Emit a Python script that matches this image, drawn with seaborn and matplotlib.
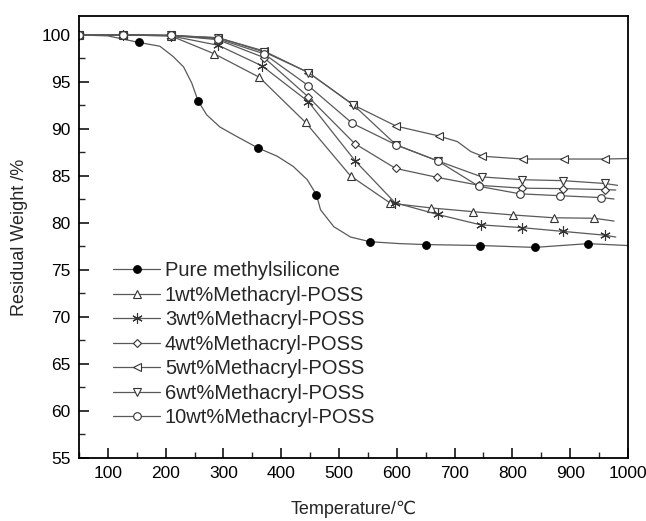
import matplotlib
matplotlib.use("Agg")
import matplotlib.pyplot as plt
import seaborn as sns

# --- data ---
pure_T = [50, 100, 154, 190, 213, 231, 245, 256, 271, 294, 323, 359, 393, 421,
          445, 461, 468, 491, 520, 554, 606, 650, 744, 839, 931, 999]
pure_W = [100, 99.9, 99.2, 98.8, 97.7, 96.6, 94.9, 93.0, 91.5, 90.2, 89.2, 88.0, 87.1, 86.0,
          84.6, 83.0, 81.4, 79.6, 78.5, 78.0, 77.8, 77.7, 77.6, 77.4, 77.8, 77.6]
pure_marks = [0, 2, 7, 11, 15, 19, 21, 22, 23, 24]

w1_T = [50, 126, 209, 284, 362, 442, 520, 589, 659, 732, 801, 872, 942, 976]
w1_W = [100, 100, 99.9, 98.0, 95.5, 90.7, 85.0, 82.1, 81.6, 81.2, 80.85, 80.55, 80.5, 80.2]

w3_T = [50, 126, 209, 291, 367, 447, 528, 597, 671, 745, 817, 888, 960, 979]
w3_W = [100, 100, 99.9, 98.9, 96.7, 92.9, 86.6, 82.15, 80.9, 79.8, 79.5, 79.1, 78.7, 78.5]

w4_T = [50, 126, 209, 290, 370, 447, 527, 598, 670, 743, 817, 888, 960, 979]
w4_W = [100, 100, 99.95, 99.5, 97.6, 93.4, 88.45, 85.8, 84.85, 84.0, 83.7, 83.65, 83.55, 83.5]

w5_T = [50, 126, 209, 291, 370, 447, 525, 599, 673, 705, 728, 748, 818, 889, 961, 999]
w5_W = [100, 100, 99.95, 99.7, 98.3, 96.0, 92.55, 90.3, 89.25, 88.65, 87.6, 87.1, 86.8, 86.8, 86.8, 86.85]
w5_marks = [0, 1, 2, 3, 4, 5, 6, 7, 8, 11, 12, 13, 14]

w6_T = [50, 126, 209, 291, 370, 447, 525, 599, 671, 747, 817, 888, 960, 982]
w6_W = [100, 100, 99.95, 99.7, 98.2, 96.0, 92.55, 88.3, 86.6, 84.9, 84.6, 84.5, 84.2, 84.0]

w10_T = [50, 126, 209, 290, 370, 447, 523, 599, 671, 742, 813, 882, 953, 976]
w10_W = [100, 100, 99.95, 99.6, 98.0, 94.6, 90.6, 88.3, 86.6, 83.9, 83.1, 82.9, 82.7, 82.55]

labels = ["Pure methylsilicone", "1wt%Methacryl-POSS", "3wt%Methacryl-POSS",
          "4wt%Methacryl-POSS", "5wt%Methacryl-POSS", "6wt%Methacryl-POSS",
          "10wt%Methacryl-POSS"]

sns.set_style("ticks")
plt.rcParams['font.family'] = ['Liberation Sans', 'DejaVu Sans']

fig = plt.figure(figsize=(6.46, 5.21), dpi=100)
ax = fig.add_axes([0.1223, 0.121, 0.8497, 0.848])

line_c = "0.35"
series = [
    (pure_T, pure_W, "o", pure_marks, "black", 5.5),
    (w1_T, w1_W, "^", list(range(len(w1_T) - 1)), "white", 5.5),
    (w3_T, w3_W, (6, 2, 0), list(range(len(w3_T) - 1)), "none", 7.5),
    (w4_T, w4_W, "D", list(range(len(w4_T) - 1)), "white", 4.5),
    (w5_T, w5_W, "<", w5_marks, "white", 5.5),
    (w6_T, w6_W, "v", list(range(len(w6_T) - 1)), "white", 5.5),
    (w10_T, w10_W, "o", list(range(len(w10_T) - 1)), "white", 5.5),
]

for (T, W, mk, marks, fc, ms), lab in zip(series, labels):
    sns.lineplot(x=T, y=W, ax=ax, color=line_c, linewidth=0.9, marker=mk,
                 markevery=marks, markersize=ms, markerfacecolor=fc,
                 markeredgecolor="0.2" if fc != "black" else "black",
                 markeredgewidth=0.8, sort=False, estimator=None, label=lab)

ax.set_xlim(50, 1000)
ax.set_ylim(55, 102)
ax.set_xticks(range(100, 1001, 100))
ax.set_xticks(range(50, 1001, 100), minor=True)
ax.set_yticks(range(55, 101, 5))
ax.set_yticks([57.5 + 5 * i for i in range(9)], minor=True)
ax.tick_params(which="major", direction="in", length=7, width=1.1, labelsize=12.5,
               colors="black", pad=6)
ax.tick_params(which="minor", direction="in", length=4, width=1.0)
ax.tick_params(top=False, right=False, which="both")
for s in ax.spines.values():
    s.set_visible(True)
    s.set_linewidth(1.3)
    s.set_color("black")

ax.set_xlabel("Temperature/℃", fontsize=13, labelpad=14)
ax.set_ylabel("Residual Weight /%", fontsize=13, labelpad=10)

ax.legend(loc="upper left", bbox_to_anchor=(0.048, 0.463), frameon=False,
          fontsize=14.5, handlelength=2.3, handletextpad=0.25, labelspacing=0.27,
          borderaxespad=0)

fig.savefig("out.png", dpi=100)
